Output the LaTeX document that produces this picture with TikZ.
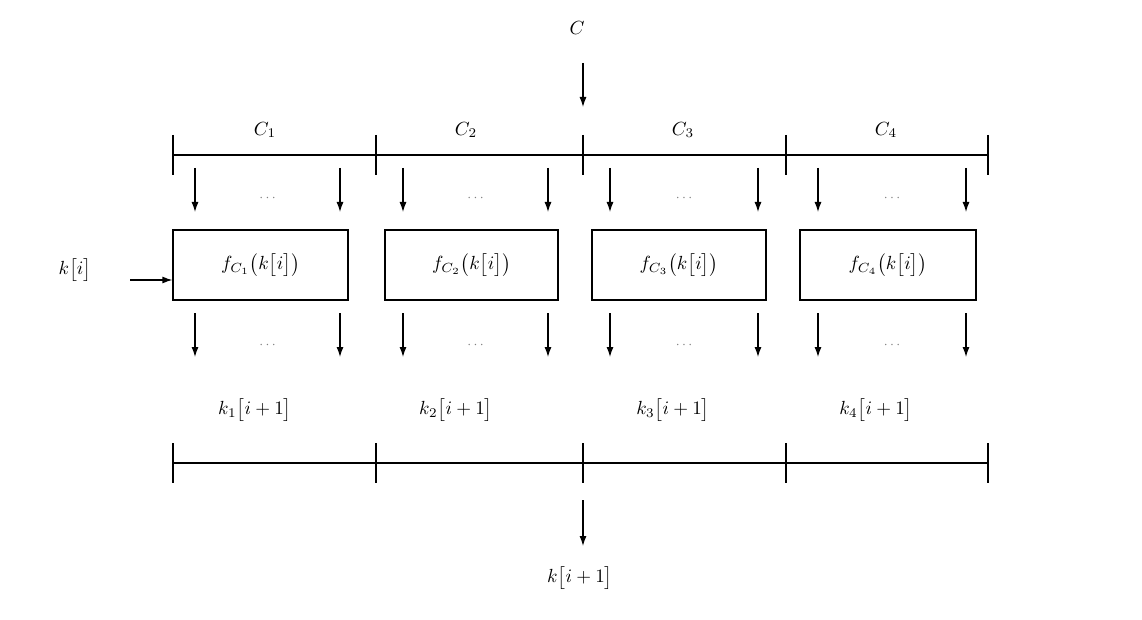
\documentclass[tikz,border=0pt]{standalone}
\usetikzlibrary{arrows.meta}
\newcommand\bigtxt[1]{\scalebox{1.9}{#1}}
\begin{document}
\begin{tikzpicture}[x=1pt,y=-1pt,
  lbl/.style={inner sep=1pt},
  arr/.style={-{Latex[length=10pt,width=7pt]},line width=1.2pt},
  bar/.style={line width=1.2pt},
  fbox/.style={draw,line width=1.2pt,minimum width=175pt,minimum height=70pt,inner sep=0pt},
  dots/.style={text=gray}]
\useasboundingbox (0,0) rectangle (1142,620);
\draw[bar] (173,155) -- (988,155);
\foreach \x in {173,376,583,786,988}{
  \draw[bar] (\x,135) -- (\x,175);
  \draw[bar] (\x,443) -- (\x,483);}
\draw[bar] (173,463) -- (988,463);
\node[lbl] (C) at (577,28) {\bigtxt{$C$}};
\coordinate (Ca) at (583,63);
\coordinate (Cb) at (583,107);
\draw[arr] (Ca) -- (Cb);
\foreach \i/\x in {1/265,2/466,3/683,4/886}{
  \node[lbl] (c\i) at (\x,130) {\bigtxt{$C_{\i}$}};
  \node[lbl] (k\i) at (\x-10,410) {\bigtxt{$k_{\i}\bigl[i+1\bigr]$}};}
\node[fbox] (f1) at (260.5,265) {\bigtxt{$f_{C_1}\bigl(k\bigl[i\bigr]\bigr)$}};
\node[fbox,minimum width=173pt] (f2) at (471.5,265) {\bigtxt{$f_{C_2}\bigl(k\bigl[i\bigr]\bigr)$}};
\node[fbox,minimum width=174pt] (f3) at (679,265) {\bigtxt{$f_{C_3}\bigl(k\bigl[i\bigr]\bigr)$}};
\node[fbox,minimum width=176pt] (f4) at (888,265) {\bigtxt{$f_{C_4}\bigl(k\bigl[i\bigr]\bigr)$}};
\foreach \a/\b in {195/340,403/548,610/758,818/966}{
  \draw[arr] (\a,168) -- (\a,212);
  \draw[arr] (\b,168) -- (\b,212);
  \draw[arr] (\a,313) -- (\a,357);
  \draw[arr] (\b,313) -- (\b,357);
  \node[dots] at ({(\a+\b)/2},198) {\scalebox{1.4}{$\cdots$}};
  \node[dots] at ({(\a+\b)/2},345) {\scalebox{1.4}{$\cdots$}};}
\node[lbl] (ki) at (75,270) {\bigtxt{$k\bigl[i\bigr]$}};
\draw[arr] (130,280) -- (f1.west|-0,280);
\draw[arr] (583,500) -- (583,546);
\node[lbl] (kout) at (580,578) {\bigtxt{$k\bigl[i+1\bigr]$}};
\end{tikzpicture}
\end{document}
